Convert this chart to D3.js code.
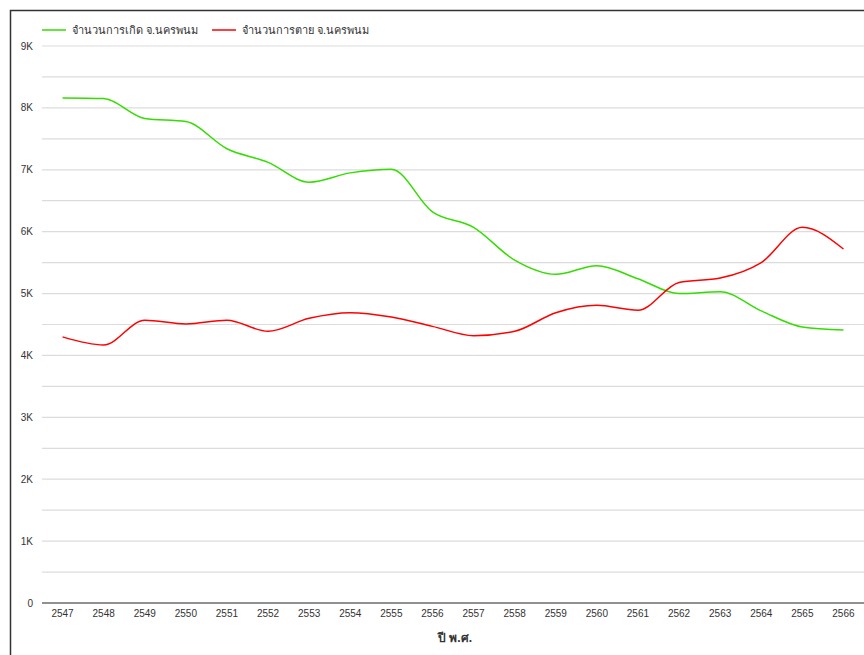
<!DOCTYPE html>
<html>
<head>
<meta charset="utf-8">
<script src="https://cdn.jsdelivr.net/npm/d3@7"></script>
<style>
  body { margin: 0; background: #fff; }
  svg { display: block; }
  text { font-family: "Liberation Sans Narrow", "Liberation Sans", sans-serif; }
</style>
</head>
<body>
<svg width="864" height="655"></svg>
<script>
const years = ["2547","2548","2549","2550","2551","2552","2553","2554","2555","2556",
  "2557","2558","2559","2560","2561","2562","2563","2564","2565","2566"];
const births = [8160, 8150, 7830, 7780, 7340, 7120, 6800, 6950, 7010, 6320,
  6070, 5540, 5310, 5450, 5240, 5000, 5030, 4720, 4460, 4410];
const deaths = [4300, 4170, 4570, 4510, 4570, 4390, 4600, 4690, 4620, 4470,
  4320, 4390, 4690, 4810, 4730, 5180, 5250, 5500, 6070, 5720];
const yTicks = [0, 1000, 2000, 3000, 4000, 5000, 6000, 7000, 8000, 9000];
const series = [
  { name: "จำนวนการเกิด จ.นครพนม", values: births, color: "#33dd00" },
  { name: "จำนวนการตาย จ.นครพนม", values: deaths, color: "#ff0000" }
];

const svg = d3.select("svg");
const plotL = 42, plotR = 864, plotT = 46, plotB = 603;

// frame
svg.append("path")
  .attr("d", "M10.5,660 L10.5,10.5 L870,10.5")
  .attr("fill", "none")
  .attr("stroke", "#333")
  .attr("stroke-width", 1.5);

const x = d3.scalePoint().domain(years).range([plotL, plotR]).padding(0.5);
const y = d3.scaleLinear().domain([0, 9000]).range([plotB, plotT]);

// gridlines (every 500)
svg.append("g")
  .selectAll("line")
  .data(d3.range(500, 9001, 500))
  .join("line")
  .attr("x1", plotL).attr("x2", plotR)
  .attr("y1", d => y(d)).attr("y2", d => y(d))
  .attr("stroke", "#dcdcdc")
  .attr("stroke-width", 1.2);

// baseline
svg.append("line")
  .attr("x1", plotL).attr("x2", plotR)
  .attr("y1", y(0)).attr("y2", y(0))
  .attr("stroke", "#222").attr("stroke-width", 1);

// y labels
svg.append("g")
  .selectAll("text")
  .data(yTicks)
  .join("text")
  .attr("x", 33)
  .attr("y", d => y(d))
  .attr("dy", "0.35em")
  .attr("text-anchor", "end")
  .attr("font-size", 10)
  .attr("fill", "#333")
  .text(d => d === 0 ? "0" : d3.format("~s")(d).replace("k", "K"));

// x labels
svg.append("g")
  .selectAll("text")
  .data(years)
  .join("text")
  .attr("x", d => x(d))
  .attr("y", 617)
  .attr("text-anchor", "middle")
  .attr("font-size", 10)
  .attr("fill", "#333")
  .text(d => d);

svg.append("text")
  .attr("x", 455).attr("y", 642)
  .attr("text-anchor", "middle")
  .attr("font-size", 12)
  .attr("font-weight", "bold")
  .attr("fill", "#333")
  .text("ปี พ.ศ.");

// lines
const line = d3.line()
  .x((d, i) => x(years[i]))
  .y(d => y(d))
  .curve(d3.curveMonotoneX);

svg.append("g")
  .selectAll("path")
  .data(series)
  .join("path")
  .attr("d", d => line(d.values))
  .attr("fill", "none")
  .attr("stroke", d => d.color)
  .attr("stroke-width", 1.5);

// legend
const legend = svg.append("g")
  .selectAll("g")
  .data(series)
  .join("g")
  .attr("transform", (d, i) => `translate(${i ? 212 : 42},30)`);
legend.append("line")
  .attr("x1", 0).attr("x2", 24)
  .attr("stroke", d => d.color).attr("stroke-width", 1.5);
legend.append("text")
  .attr("x", 30).attr("dy", "0.35em")
  .attr("font-size", 11)
  .attr("fill", "#333")
  .text(d => d.name);
</script>
</body>
</html>
